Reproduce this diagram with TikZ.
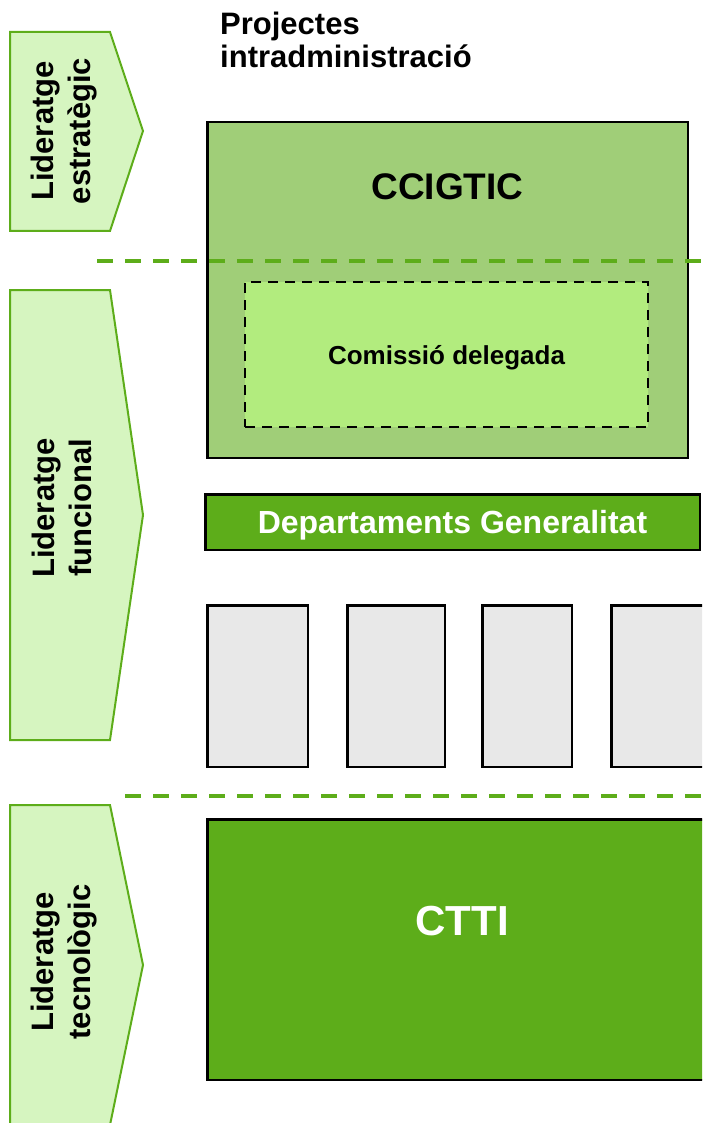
\documentclass[tikz,border=0pt]{standalone}
\usepackage{fontspec}
\setmainfont{Liberation Sans}
\usepackage{tikz}
\usetikzlibrary{positioning}

\definecolor{tabfill}{HTML}{D6F5C0}
\definecolor{darkgreen}{HTML}{5DAD1A}
\definecolor{midgreen}{HTML}{A0CE78}
\definecolor{lightgreen}{HTML}{B2EC7E}
\definecolor{boxgray}{HTML}{E8E8E8}

\begin{document}
\begin{tikzpicture}[x=1pt,y=-1pt,
    tab/.style={draw=darkgreen,fill=tabfill,line width=2pt},
    tablabel/.style={rotate=90,align=center,font=\fontsize{31}{37}\selectfont\bfseries},
    block/.style={draw=black,line width=2.5pt,anchor=north west,inner sep=0pt},
    divider/.style={draw=darkgreen,line width=4pt,dash pattern=on 16pt off 12pt}]
    \useasboundingbox (0,0) rectangle (702,1123);
    \clip (0,0) rectangle (702,1123);

    % left tabs
    \draw[tab] (10,32) -- (110,32) -- (143,131) -- (110,231) -- (10,231) -- cycle;
    \draw[tab] (10,290) -- (110,290) -- (143,515) -- (110,740) -- (10,740) -- cycle;
    \draw[tab] (10,805) -- (110,805) -- (143,965) -- (110,1125) -- (10,1125) -- cycle;
    \node[tablabel] (strategic) at (64,131) {Lideratge\\estratègic};
    \node[tablabel] (functional) at (62,508) {Lideratge\\funcional};
    \node[tablabel] (technological) at (64,962) {Lideratge\\tecnològic};

    \node[anchor=north west,align=left,inner sep=0pt,font=\fontsize{31}{33}\selectfont\bfseries] (title) at (220,12) {Projectes\\intradministració};

    % committee
    \node[block,fill=midgreen,minimum width=480.5,minimum height=335.5] (ccigtic) at (206,121) {};
    \node[font=\fontsize{37}{44}\selectfont\bfseries] (ccigticlabel) at ([yshift=-66pt]ccigtic.north) {CCIGTIC};
    \coordinate (split1) at (97,261);
    \draw[divider] (split1) -- ++(605,0);
    \node[block,fill=lightgreen,line width=2pt,dash pattern=on 10pt off 7pt,minimum width=403,minimum height=145,
        text depth=0pt,font=\fontsize{26}{31}\selectfont\bfseries] (delegate) at (244,281) {Comissió delegada};

    % departments
    \node[block,fill=darkgreen,text=white,minimum width=494.5,minimum height=55.5,text depth=0pt,
        font=\fontsize{32}{38}\selectfont\bfseries] (departments) at (204,493) {Departaments Generalitat};
    \node[block,fill=boxgray,minimum width=100.5,minimum height=161.5] (dept1) at (206,604) {};
    \node[block,fill=boxgray,minimum width=97.5,minimum height=161.5,right=37pt of dept1] (dept2) {};
    \node[block,fill=boxgray,minimum width=89.5,minimum height=161.5,right=35pt of dept2] (dept3) {};
    \node[block,fill=boxgray,minimum width=100,minimum height=161.5,right=37pt of dept3] (dept4) {};

    \coordinate (split2) at (125,796);
    \draw[divider] (split2) -- ++(577,0);

    % technology centre
    \node[block,fill=darkgreen,minimum width=510,minimum height=260.5] (ctti) at (206,818) {};
    \node[font=\fontsize{42}{50}\selectfont\bfseries,text=white] (cttilabel) at ([yshift=-103pt]ctti.north) {CTTI};
\end{tikzpicture}
\end{document}
